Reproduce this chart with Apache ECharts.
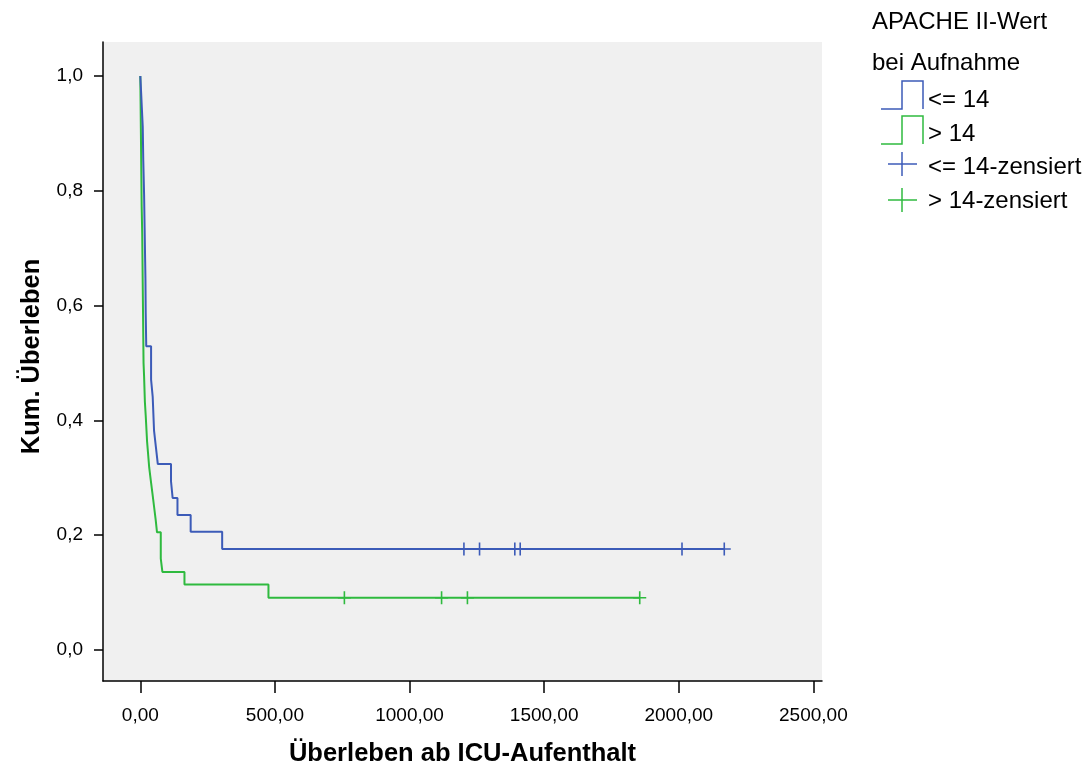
<!DOCTYPE html>
<html>
<head>
<meta charset="utf-8">
<title>Kaplan-Meier: Überleben ab ICU-Aufenthalt</title>
<script src="https://cdn.jsdelivr.net/npm/echarts@6/dist/echarts.min.js"></script>
<style>
  html, body { margin: 0; padding: 0; background: #ffffff; }
  #chart { width: 1086px; height: 769px; }
</style>
</head>
<body>
<div id="chart"></div>
<script>
// Kaplan-Meier estimates, grouped by APACHE II score at admission
// Group "<= 14": event times (days) and survival after each event
const lowTimes = [0, 3, 6, 9, 11, 14, 16, 18, 19, 20, 22, 40, 46, 51, 58, 65, 114, 120, 138, 187, 304];
const lowSurv  = [1.000, 0.971, 0.941, 0.912, 0.853, 0.794, 0.735, 0.676, 0.647, 0.588, 0.529, 0.471, 0.441, 0.382, 0.353, 0.324, 0.294, 0.265, 0.235, 0.206, 0.176];
const lowCensored = [1202, 1260, 1391, 1411, 2012, 2169];

// Group "> 14"
const highTimes = [0, 1, 2, 3, 4, 5, 7, 8, 9, 10, 11, 12, 14, 17, 20, 25, 29, 33, 39, 45, 51, 57, 62, 76, 82, 164, 476];
const highSurv  = [1.000, 0.955, 0.909, 0.864, 0.818, 0.773, 0.727, 0.682, 0.636, 0.591, 0.545, 0.500, 0.477, 0.432, 0.409, 0.364, 0.341, 0.318, 0.295, 0.273, 0.250, 0.227, 0.205, 0.159, 0.136, 0.114, 0.091];
const highCensored = [758, 1119, 1215, 1855];

const groupNames = ['<= 14', '> 14', '<= 14-zensiert', '> 14-zensiert'];
const legendTitle = ['APACHE II-Wert', 'bei Aufnahme'];
const xTicks = [0, 500, 1000, 1500, 2000, 2500];
const yTicks = [0, 0.2, 0.4, 0.6, 0.8, 1.0];

const BLUE = '#3c5bb8';
const GREEN = '#2fba3f';
const FONT = '"Liberation Sans", Arial, Helvetica, sans-serif';

// Step line: last survival value held until the last censored observation
function stepData(times, surv, censored) {
  const pts = times.map((t, i) => [t, surv[i]]);
  const lastT = Math.max(...censored);
  if (lastT > times[times.length - 1]) pts.push([lastT, surv[surv.length - 1]]);
  return pts;
}
function censorData(times, surv, censored) {
  // censored cases sit on the survival level valid at their time
  return censored.map(c => {
    let s = surv[0];
    for (let i = 0; i < times.length; i++) if (times[i] <= c) s = surv[i];
    return [c, s];
  });
}

const plusSymbol = 'path://M6,0 L6,12 M0,6 L12,6';

const chart = echarts.init(document.getElementById('chart'), null, { renderer: 'canvas' });

const LEG_FONT = '24px ' + FONT;
function legendText(str, y) {
  return { type: 'text', style: { x: 928, y: y, text: str, font: LEG_FONT, fill: '#000', verticalAlign: 'middle' } };
}

const option = {
  animation: false,
  backgroundColor: '#ffffff',
  textStyle: { fontFamily: FONT },
  grid: {
    left: 103, right: 264, top: 42, bottom: 88,
    show: true,
    backgroundColor: '#f0f0f0',
    borderWidth: 0,
    containLabel: false,
    outerBoundsMode: 'none'
  },
  xAxis: {
    type: 'value',
    min: -138.6,
    max: 2532,
    name: 'Überleben ab ICU-Aufenthalt',
    nameLocation: 'middle',
    nameGap: 60,
    nameTextStyle: { fontSize: 25.5, fontWeight: 'bold', color: '#000', fontFamily: FONT },
    axisLine: { show: true, onZero: false, lineStyle: { color: '#000', width: 1.5 } },
    axisTick: { show: true, customValues: xTicks, length: 12, lineStyle: { color: '#000', width: 1.5 } },
    axisLabel: {
      customValues: xTicks, margin: 25, fontSize: 19, color: '#000', fontFamily: FONT,
      formatter: v => v.toFixed(2).replace('.', ',')
    },
    splitLine: { show: false }
  },
  yAxis: {
    type: 'value',
    min: -0.054,
    max: 1.0592,
    name: 'Kum. Überleben',
    nameLocation: 'middle',
    nameGap: 58,
    nameTextStyle: { fontSize: 25.5, fontWeight: 'bold', color: '#000', fontFamily: FONT, padding: [0, 0, 0, 10] },
    axisLine: { show: true, onZero: false, lineStyle: { color: '#000', width: 1.5 } },
    axisTick: { show: true, customValues: yTicks, length: 9, lineStyle: { color: '#000', width: 1.5 } },
    axisLabel: {
      customValues: yTicks, margin: 20, fontSize: 19, color: '#000', fontFamily: FONT,
      formatter: v => v.toFixed(1).replace('.', ',')
    },
    splitLine: { show: false }
  },
  series: [
    {
      name: groupNames[1], type: 'line', step: 'end', showSymbol: false,
      data: stepData(highTimes, highSurv, highCensored),
      lineStyle: { color: GREEN, width: 2 }, itemStyle: { color: GREEN }, z: 2
    },
    {
      name: groupNames[0], type: 'line', step: 'end', showSymbol: false,
      data: stepData(lowTimes, lowSurv, lowCensored),
      lineStyle: { color: BLUE, width: 2 }, itemStyle: { color: BLUE }, z: 3
    },
    {
      name: groupNames[3], type: 'scatter', symbol: plusSymbol, symbolSize: [13, 13],
      data: censorData(highTimes, highSurv, highCensored),
      itemStyle: { color: 'rgba(0,0,0,0)', borderColor: GREEN, borderWidth: 1.6, opacity: 1 }, z: 4
    },
    {
      name: groupNames[2], type: 'scatter', symbol: plusSymbol, symbolSize: [13, 13],
      data: censorData(lowTimes, lowSurv, lowCensored),
      itemStyle: { color: 'rgba(0,0,0,0)', borderColor: BLUE, borderWidth: 1.6, opacity: 1 }, z: 5
    }
  ],
  graphic: [
    { type: 'text', style: { x: 872, y: 22, text: legendTitle[0], font: LEG_FONT, fill: '#000', verticalAlign: 'middle' } },
    { type: 'text', style: { x: 872, y: 63, text: legendTitle[1], font: LEG_FONT, fill: '#000', verticalAlign: 'middle' } },
    // step icons
    { type: 'polyline', shape: { points: [[881, 109], [902, 109], [902, 81], [923, 81], [923, 109]] },
      style: { stroke: BLUE, lineWidth: 1.5, fill: null } },
    legendText(groupNames[0], 100),
    { type: 'polyline', shape: { points: [[881, 144], [902, 144], [902, 116], [923, 116], [923, 144]] },
      style: { stroke: GREEN, lineWidth: 1.5, fill: null } },
    legendText(groupNames[1], 134),
    // censor marks
    { type: 'line', shape: { x1: 888, y1: 164, x2: 917, y2: 164 }, style: { stroke: BLUE, lineWidth: 1.5 } },
    { type: 'line', shape: { x1: 902, y1: 152, x2: 902, y2: 176 }, style: { stroke: BLUE, lineWidth: 1.5 } },
    legendText(groupNames[2], 167),
    { type: 'line', shape: { x1: 888, y1: 200, x2: 917, y2: 200 }, style: { stroke: GREEN, lineWidth: 1.5 } },
    { type: 'line', shape: { x1: 902, y1: 188, x2: 902, y2: 212 }, style: { stroke: GREEN, lineWidth: 1.5 } },
    legendText(groupNames[3], 201)
  ]
};

chart.setOption(option);
</script>
</body>
</html>
